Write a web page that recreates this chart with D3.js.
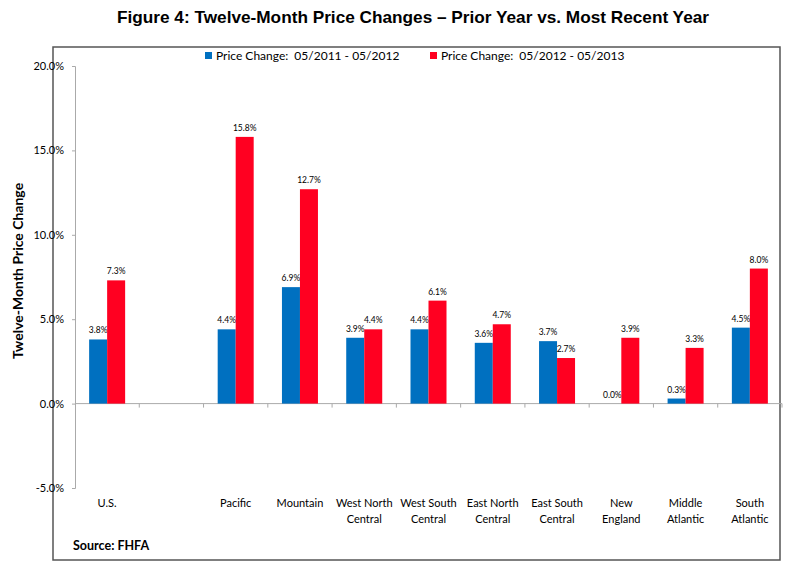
<!DOCTYPE html>
<html><head><meta charset="utf-8">
<script src="https://cdn.jsdelivr.net/npm/d3@7"></script>
<style>body{margin:0;background:#fff}svg{display:block}</style>
</head><body>
<script>
const categories = ["U.S.", "", "Pacific", "Mountain", "West North|Central", "West South|Central", "East North|Central", "East South|Central", "New|England", "Middle|Atlantic", "South|Atlantic"];
const prior = [3.8, null, 4.4, 6.9, 3.9, 4.4, 3.6, 3.7, 0.0, 0.3, 4.5];
const recent = [7.3, null, 15.8, 12.7, 4.4, 6.1, 4.7, 2.7, 3.9, 3.3, 8.0];
const seriesNames = ["Price Change:  05/2011 - 05/2012", "Price Change:  05/2012 - 05/2013"];
const yTicks = [-5, 0, 5, 10, 15, 20];

const W = 793, H = 568;
const svg = d3.select("body").append("svg").attr("width", W).attr("height", H);
const colors = ["#0070C0", "#FF0021"];
const bodyFont = "Lato, 'Open Sans', sans-serif";

const x = d3.scaleBand().domain(d3.range(categories.length)).range([75, 782]);
const y = d3.scaleLinear().domain([-5, 20]).range([488, 66]);

// title
svg.append("text").attr("x", 413).attr("y", 23).attr("text-anchor", "middle")
  .attr("font-family", "'Liberation Sans', Arial, sans-serif").attr("font-weight", "bold")
  .attr("font-size", 17).attr("textLength", 592).attr("lengthAdjust", "spacingAndGlyphs")
  .text("Figure 4: Twelve-Month Price Changes \u2013 Prior Year vs. Most Recent Year");

// frame
svg.append("rect").attr("x", 53).attr("y", 47).attr("width", 727).attr("height", 513)
  .attr("fill", "none").attr("stroke", "#555").attr("stroke-width", 1.5);

// y axis
const yAxis = d3.axisLeft(y).tickValues(yTicks).tickSize(3).tickPadding(8)
  .tickFormat(d => d.toFixed(1) + "%");
const yg = svg.append("g").attr("transform", "translate(75,0)").call(yAxis);
yg.select(".domain").attr("stroke", "#aaa");
yg.selectAll(".tick line").attr("stroke", "#aaa");
yg.selectAll(".tick text").attr("font-family", bodyFont).attr("font-size", 11).attr("fill", "#000");

// x axis line at 0
const xg = svg.append("g");
xg.append("line").attr("x1", 75).attr("x2", 782).attr("y1", y(0)).attr("y2", y(0)).attr("stroke", "#aaa");
xg.selectAll("line.t").data(d3.range(1, categories.length + 1)).join("line")
  .attr("x1", i => x(0) + i * x.step()).attr("x2", i => x(0) + i * x.step())
  .attr("y1", y(0)).attr("y2", y(0) + 4).attr("stroke", "#aaa");

// bars
const bw = 18;
[prior, recent].forEach((vals, s) => {
  const g = svg.append("g");
  const data = vals.map((v, i) => ({ v, i })).filter(d => d.v !== null);
  g.selectAll("rect").data(data).join("rect")
    .attr("x", d => x(d.i) + x.bandwidth() / 2 - bw + s * bw)
    .attr("width", bw)
    .attr("y", d => y(Math.max(0, d.v)))
    .attr("height", d => Math.abs(y(d.v) - y(0)))
    .attr("fill", colors[s]);
  g.selectAll("text").data(data).join("text")
    .attr("x", d => x(d.i) + x.bandwidth() / 2 - bw / 2 + s * bw)
    .attr("y", d => y(Math.max(0, d.v)) - 6)
    .attr("text-anchor", "middle").attr("font-family", bodyFont).attr("font-size", 8.5)
    .text(d => d.v.toFixed(1) + "%");
});

// category labels
const cl = svg.append("g");
categories.forEach((c, i) => {
  const lines = c.split("|");
  lines.forEach((ln, k) => {
    cl.append("text").attr("x", x(i) + x.bandwidth() / 2).attr("y", 507 + k * 16)
      .attr("text-anchor", "middle").attr("font-family", bodyFont).attr("font-size", 11).text(ln);
  });
});

// legend
const leg = svg.append("g");
[[205, 0], [430, 1]].forEach(([lx, s]) => {
  leg.append("rect").attr("x", lx).attr("y", 52).attr("width", 7).attr("height", 7).attr("fill", colors[s]);
  leg.append("text").attr("x", lx + 11).attr("y", 60).attr("font-family", bodyFont).attr("font-size", 12)
    .style("white-space", "pre").text(seriesNames[s]);
});

// y title
svg.append("text").attr("transform", "translate(23,271) rotate(-90)").attr("text-anchor", "middle")
  .attr("font-family", "Lato, 'Open Sans', sans-serif").attr("font-weight", "bold").attr("font-size", 14)
  .text("Twelve-Month Price Change");

// source
svg.append("text").attr("x", 73).attr("y", 550).attr("font-family", "Lato, 'Open Sans', sans-serif")
  .attr("font-weight", "bold").attr("font-size", 12.5).text("Source: FHFA");
</script>
</body></html>
